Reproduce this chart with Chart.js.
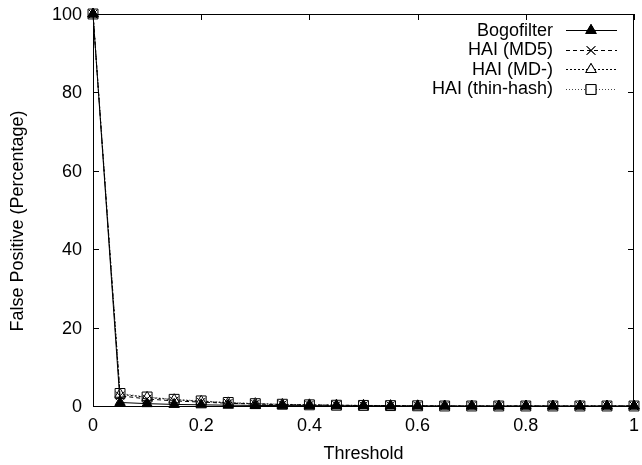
<!DOCTYPE html>
<html>
<head>
<meta charset="utf-8">
<title>False Positive vs Threshold</title>
<script src="https://cdn.jsdelivr.net/npm/chart.js@4.4.0/dist/chart.umd.min.js"></script>
<style>
  html, body { margin: 0; padding: 0; background: #fff; }
  #wrap { width: 642px; height: 465px; position: relative; }
</style>
</head>
<body>
<div id="wrap"><canvas id="fp-chart"></canvas></div>
<script>
/* ── Data ── */
const thresholds = [0, 0.05, 0.1, 0.15, 0.2, 0.25, 0.3, 0.35, 0.4, 0.45, 0.5,
                    0.55, 0.6, 0.65, 0.7, 0.75, 0.8, 0.85, 0.9, 0.95, 1];
const bogofilter = [100, 0.9, 0.6, 0.4, 0.3, 0.2, 0.15, 0.1, 0.1, 0.05, 0.05,
                    0, 0, 0, 0, 0, 0, 0, 0, 0, 0];
const haiMD5     = [100, 2.6, 1.8, 1.3, 1.0, 0.7, 0.5, 0.35, 0.25, 0.2, 0.1,
                    0.1, 0.05, 0, 0, 0, 0, 0, 0, 0, 0];
const haiMDminus = [100, 3.0, 2.2, 1.6, 1.2, 0.8, 0.6, 0.4, 0.3, 0.2, 0.15,
                    0.1, 0.05, 0, 0, 0, 0, 0, 0, 0, 0];
const haiThin    = [100, 3.2, 2.3, 1.7, 1.3, 0.9, 0.6, 0.45, 0.3, 0.2, 0.15,
                    0.1, 0.05, 0, 0, 0, 0, 0, 0, 0, 0];
const xTicks = [0, 0.2, 0.4, 0.6, 0.8, 1];
const yTicks = [0, 20, 40, 60, 80, 100];
const xTitle = 'Threshold';
const yTitle = 'False Positive (Percentage)';

const FONT = '18px "Liberation Sans", Arial, Helvetica, sans-serif';
const toPoints = ys => thresholds.map((x, i) => ({ x, y: ys[i] }));

const series = [
  { label: 'Bogofilter',      data: bogofilter, dash: [],     color: '#000', style: 'triangle', fill: '#000', r: 6 },
  { label: 'HAI (MD5)',       data: haiMD5,     dash: [4, 3], color: '#000', style: 'crossRot', fill: '#000', r: 6 },
  { label: 'HAI (MD-)',       data: haiMDminus, dash: [2, 2], color: '#000', style: 'triangle', fill: '#fff', r: 6 },
  { label: 'HAI (thin-hash)', data: haiThin,    dash: [1, 2], color: '#444', style: 'rect',     fill: '#fff', r: 7 }
];

/* ── Frame, inward mirrored ticks, labels and key (gnuplot look) ── */
const gnuFrame = {
  id: 'gnuFrame',
  afterDatasetsDraw(chart) {
    const { ctx, chartArea: a, scales: { x, y } } = chart;
    const t = 6;
    ctx.save();
    ctx.strokeStyle = '#000';
    ctx.lineWidth = 1;
    ctx.setLineDash([]);
    ctx.beginPath();
    xTicks.forEach(v => {
      const px = Math.round(x.getPixelForValue(v)) + 0.5;
      ctx.moveTo(px, a.bottom); ctx.lineTo(px, a.bottom - t);
      ctx.moveTo(px, a.top);    ctx.lineTo(px, a.top + t);
    });
    yTicks.forEach(v => {
      const py = Math.round(y.getPixelForValue(v)) + 0.5;
      ctx.moveTo(a.left, py);  ctx.lineTo(a.left + t, py);
      ctx.moveTo(a.right, py); ctx.lineTo(a.right - t, py);
    });
    ctx.stroke();
    ctx.strokeRect(Math.round(a.left) + 0.5, Math.round(a.top) + 0.5,
                   Math.round(a.right - a.left) - 1, Math.round(a.bottom - a.top));

    ctx.font = FONT;
    ctx.fillStyle = '#000';
    ctx.textBaseline = 'middle';

    // tick labels
    ctx.textAlign = 'center';
    xTicks.forEach(v => ctx.fillText(String(v), x.getPixelForValue(v), a.bottom + 20));
    ctx.textAlign = 'right';
    yTicks.forEach(v => ctx.fillText(String(v), a.left - 11, y.getPixelForValue(v) + 1));

    // axis titles
    ctx.textAlign = 'center';
    ctx.fillText(xTitle, (a.left + a.right) / 2, 454);
    ctx.save();
    ctx.translate(18, 221);
    ctx.rotate(-Math.PI / 2);
    ctx.fillText(yTitle, 0, 0);
    ctx.restore();

    // key, top right
    ctx.textAlign = 'right';
    series.forEach((s, i) => {
      const ly = 30 + i * 19.5;
      ctx.fillStyle = '#000';
      ctx.fillText(s.label, 553, ly + 1);
      ctx.strokeStyle = s.color;
      ctx.beginPath();
      ctx.setLineDash(s.dash);
      ctx.moveTo(566, Math.round(ly) + 0.5); ctx.lineTo(617, Math.round(ly) + 0.5);
      ctx.stroke();
      ctx.setLineDash([]);
      ctx.strokeStyle = '#000';
      ctx.fillStyle = s.fill;
      Chart.helpers.drawPoint(ctx, { pointStyle: s.style, radius: s.r, borderWidth: 1 }, 591, Math.round(ly) + 0.5);
      if (s.style !== 'crossRot') ctx.fill();
      ctx.stroke();
    });
    ctx.restore();
  }
};

const ctx = document.getElementById('fp-chart');
new Chart(ctx, {
  type: 'line',
  data: {
    datasets: series.map(s => ({
      label: s.label,
      data: toPoints(s.data),
      borderColor: s.color,
      borderWidth: 1,
      borderDash: s.dash,
      pointStyle: s.style,
      pointRadius: s.r,
      pointBorderWidth: 1,
      pointBorderColor: '#000',
      pointBackgroundColor: s.fill,
      clip: false,
      tension: 0
    }))
  },
  options: {
    responsive: true,
    maintainAspectRatio: false,
    animation: false,
    layout: { padding: { top: 14, right: 1, left: 0, bottom: 0 } },
    plugins: { legend: { display: false }, tooltip: { enabled: false } },
    scales: {
      x: {
        type: 'linear', min: 0, max: 1,
        afterBuildTicks: s => { s.ticks = xTicks.map(v => ({ value: v })); },
        afterFit: s => { s.height = 59; s.paddingLeft = 0; s.paddingRight = 0; },
        grid: { display: false, drawTicks: false },
        border: { display: false },
        ticks: { display: false }
      },
      y: {
        min: 0, max: 100,
        afterBuildTicks: s => { s.ticks = yTicks.map(v => ({ value: v })); },
        afterFit: s => { s.width = 93; s.paddingTop = 0; s.paddingBottom = 0; },
        grid: { display: false, drawTicks: false },
        border: { display: false },
        ticks: { display: false }
      }
    }
  },
  plugins: [gnuFrame]
});
</script>
</body>
</html>
